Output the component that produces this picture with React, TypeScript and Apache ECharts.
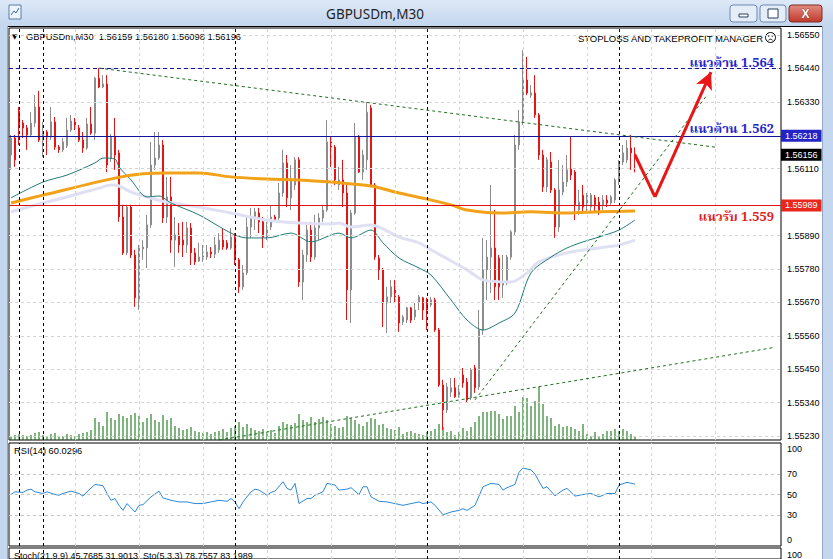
import React, { useEffect, useRef } from "react";
import * as echarts from "echarts";

// ---------- data ----------
const SLOTS = 193; // 157 bars + chart shift space
const categories = Array.from({ length: SLOTS }, (_, i) => String(i));

const opens = [
  1.56155, 1.56211, 1.563, 1.5626, 1.56244, 1.56221, 1.5626, 1.56313, 1.56204, 1.56231,
  1.56214, 1.56264, 1.56181, 1.56172, 1.56185, 1.56237, 1.56267, 1.56244, 1.56204, 1.56178,
  1.56257, 1.56227, 1.56408, 1.56379, 1.56389, 1.56145, 1.56214, 1.56162, 1.55951, 1.55833,
  1.55984, 1.55826, 1.55671, 1.55846, 1.55849, 1.55925, 1.56122, 1.56145, 1.56188, 1.55951,
  1.56017, 1.55875, 1.55892, 1.55875, 1.55859, 1.55915, 1.55833, 1.55806, 1.55816, 1.55819,
  1.55836, 1.55829, 1.55843, 1.55875, 1.55866, 1.55849, 1.55885, 1.5581, 1.55721, 1.55767,
  1.55918, 1.55948, 1.55964, 1.55935, 1.55885, 1.55918, 1.55951, 1.55948, 1.5603, 1.56129,
  1.56014, 1.56056, 1.56139, 1.55737, 1.55826, 1.55908, 1.55819, 1.55915, 1.55948, 1.55974,
  1.56198, 1.56181, 1.56056, 1.56073, 1.5603, 1.55711, 1.55964, 1.56214, 1.56099, 1.56139,
  1.5631, 1.56056, 1.55816, 1.55777, 1.55668, 1.55688, 1.55721, 1.55688, 1.55606, 1.55612,
  1.55652, 1.55622, 1.55671, 1.55685, 1.55668, 1.55662, 1.55678, 1.55579, 1.55398, 1.55316,
  1.55375, 1.55389, 1.55359, 1.55431, 1.55408, 1.55356, 1.55454, 1.55392, 1.55579, 1.55777,
  1.55819, 1.55849, 1.55816, 1.55727, 1.55734, 1.55819, 1.55902, 1.56188, 1.56264, 1.56402,
  1.56352, 1.56359, 1.56287, 1.56155, 1.5605, 1.56132, 1.5604, 1.55918, 1.56033, 1.56066,
  1.56109, 1.56099, 1.55974, 1.56023, 1.55997, 1.55984, 1.56014, 1.56, 1.55991, 1.56007,
  1.55997, 1.56007, 1.56073, 1.56132, 1.56139, 1.56178, 1.56159,
];
const closes = [
  1.56211, 1.56139, 1.56254, 1.56244, 1.56221, 1.5626, 1.56313, 1.56204, 1.56231, 1.56214,
  1.56264, 1.56181, 1.56172, 1.56198, 1.56237, 1.56267, 1.56244, 1.56204, 1.56178, 1.56257,
  1.56227, 1.56408, 1.56379, 1.56389, 1.56122, 1.56214, 1.56155, 1.55951, 1.55833, 1.55984,
  1.55826, 1.55685, 1.55849, 1.55852, 1.55925, 1.56122, 1.56145, 1.56188, 1.55948, 1.56017,
  1.55875, 1.55892, 1.55859, 1.55859, 1.55915, 1.55833, 1.55803, 1.55819, 1.55823, 1.55836,
  1.55829, 1.55859, 1.55875, 1.55852, 1.55849, 1.55885, 1.5581, 1.55721, 1.55767, 1.55918,
  1.55951, 1.55968, 1.55935, 1.55885, 1.55918, 1.55951, 1.55941, 1.5603, 1.56129, 1.56014,
  1.56073, 1.56139, 1.55737, 1.55826, 1.55908, 1.55819, 1.55915, 1.55948, 1.55974, 1.56198,
  1.56181, 1.56073, 1.56073, 1.5603, 1.55711, 1.55964, 1.56214, 1.56099, 1.56155, 1.56296,
  1.56056, 1.55819, 1.55777, 1.55668, 1.55688, 1.55721, 1.55688, 1.55602, 1.55622, 1.55652,
  1.55612, 1.55645, 1.55688, 1.55645, 1.55645, 1.55678, 1.55579, 1.55398, 1.55316, 1.55392,
  1.55389, 1.55359, 1.55375, 1.55405, 1.55349, 1.55448, 1.55389, 1.55579, 1.55777, 1.55819,
  1.55849, 1.55721, 1.55721, 1.55734, 1.55819, 1.55902, 1.56188, 1.56264, 1.56402, 1.56359,
  1.56359, 1.56287, 1.56155, 1.5605, 1.56139, 1.5604, 1.55918, 1.5604, 1.56066, 1.56106,
  1.56089, 1.55991, 1.56, 1.55984, 1.56023, 1.56023, 1.55991, 1.55968, 1.56007, 1.55997,
  1.56017, 1.56073, 1.56132, 1.56162, 1.56178, 1.56162, 1.56156,
];
const lows = [
  1.56106, 1.56116, 1.56188, 1.56211, 1.56172, 1.56214, 1.56247, 1.56198, 1.56148, 1.56155,
  1.56204, 1.56172, 1.56162, 1.56165, 1.56178, 1.56231, 1.56237, 1.56198, 1.56162, 1.56172,
  1.56221, 1.56204, 1.56375, 1.56375, 1.56099, 1.56132, 1.56106, 1.55935, 1.55826, 1.55826,
  1.55816, 1.55655, 1.55645, 1.5581, 1.55783, 1.55915, 1.56106, 1.56139, 1.55931, 1.55931,
  1.55833, 1.55787, 1.55833, 1.55819, 1.55833, 1.55793, 1.55793, 1.55803, 1.55803, 1.5581,
  1.55816, 1.55816, 1.55833, 1.55843, 1.55843, 1.55843, 1.55793, 1.55701, 1.55711, 1.5576,
  1.55882, 1.55908, 1.55898, 1.55849, 1.55875, 1.55908, 1.55935, 1.55935, 1.56017, 1.55984,
  1.55974, 1.5604, 1.55721, 1.55678, 1.55803, 1.55803, 1.5581, 1.55875, 1.55935, 1.55968,
  1.56116, 1.56056, 1.5604, 1.55984, 1.55612, 1.55602, 1.55958, 1.56096, 1.56073, 1.56106,
  1.5605, 1.5581, 1.55744, 1.55589, 1.55569, 1.55668, 1.55668, 1.55573, 1.55596, 1.55602,
  1.55602, 1.55612, 1.55645, 1.55612, 1.55579, 1.55655, 1.55573, 1.55392, 1.5525, 1.55306,
  1.55359, 1.55356, 1.55356, 1.55389, 1.55339, 1.55349, 1.55372, 1.55382, 1.55563, 1.55678,
  1.55701, 1.55678, 1.55678, 1.55685, 1.55727, 1.5581, 1.55892, 1.56172, 1.56254, 1.56352,
  1.56343, 1.56277, 1.56139, 1.56033, 1.56033, 1.5603, 1.55882, 1.55902, 1.56023, 1.5605,
  1.56073, 1.55941, 1.55958, 1.55964, 1.55964, 1.55964, 1.55964, 1.55958, 1.55974, 1.55984,
  1.55991, 1.55997, 1.56056, 1.56122, 1.56129, 1.56106, 1.56098,
];
const highs = [
  1.56221, 1.56221, 1.56313, 1.5627, 1.56254, 1.56296, 1.56352, 1.56366, 1.56264, 1.56237,
  1.56313, 1.5628, 1.56188, 1.56211, 1.56277, 1.56287, 1.56277, 1.56254, 1.56231, 1.56277,
  1.56313, 1.56412, 1.56441, 1.56418, 1.56418, 1.56224, 1.56277, 1.56172, 1.55991, 1.55991,
  1.55991, 1.55843, 1.55859, 1.55875, 1.55958, 1.56198, 1.56231, 1.56231, 1.56204, 1.56083,
  1.56083, 1.55951, 1.55931, 1.55935, 1.55935, 1.55931, 1.55849, 1.55866, 1.55859, 1.55859,
  1.55852, 1.55885, 1.55898, 1.55915, 1.55875, 1.55915, 1.55898, 1.55816, 1.55793, 1.55951,
  1.55981, 1.55981, 1.55981, 1.55951, 1.55935, 1.55991, 1.55958, 1.56063, 1.56172, 1.56155,
  1.56122, 1.56148, 1.56148, 1.55843, 1.55925, 1.55935, 1.55958, 1.55964, 1.55991, 1.5627,
  1.56214, 1.56188, 1.56116, 1.56139, 1.56056, 1.55974, 1.5626, 1.56221, 1.56172, 1.56329,
  1.5632, 1.56063, 1.55826, 1.55783, 1.55721, 1.55744, 1.55744, 1.55694, 1.55629, 1.55655,
  1.55655, 1.55668, 1.55694, 1.55688, 1.55685, 1.55688, 1.55685, 1.55586, 1.55415, 1.55405,
  1.55421, 1.55421, 1.55398, 1.55454, 1.55421, 1.55454, 1.55464, 1.55645, 1.55882, 1.55875,
  1.56056, 1.55974, 1.55826, 1.55826, 1.55826, 1.55908, 1.56221, 1.56303, 1.565, 1.56478,
  1.56385, 1.56418, 1.56293, 1.56172, 1.56148, 1.56165, 1.56046, 1.56139, 1.56122, 1.56155,
  1.56214, 1.56106, 1.5604, 1.56056, 1.5603, 1.5603, 1.56023, 1.56017, 1.56023, 1.56023,
  1.56023, 1.56079, 1.56139, 1.56188, 1.56204, 1.56221, 1.5618,
];
const volumes = [
  4, 5, 6, 5, 4, 5, 7, 8, 5, 4,
  6, 7, 4, 4, 6, 5, 4, 6, 7, 8,
  10, 22, 18, 14, 28, 22, 20, 26, 24, 22,
  25, 27, 24, 18, 22, 26, 20, 18, 25, 20,
  22, 14, 12, 10, 11, 13, 9, 8, 7, 8,
  6, 8, 9, 11, 8, 12, 14, 18, 13, 16,
  12, 10, 9, 11, 8, 10, 7, 14, 18, 16,
  15, 17, 26, 20, 18, 23, 18, 21, 23, 20,
  16, 14, 12, 13, 24, 22, 20, 16, 14, 18,
  22, 21, 15, 16, 12, 11, 10, 13, 6, 8,
  9, 7, 6, 5, 8, 9, 11, 16, 13, 8,
  9, 5, 8, 12, 9, 13, 18, 24, 28, 28,
  29, 29, 26, 21, 24, 24, 34, 28, 43, 42,
  34, 39, 53, 36, 24, 22, 14, 16, 13, 14,
  13, 11, 9, 16, 6, 4, 8, 4, 6, 9,
  9, 11, 9, 11, 9, 6, 4,
];

// moving averages, read at sample bars
const maOrangeIdx = [0, 8, 26, 33, 39, 47, 55, 64, 72, 80, 90, 97, 104, 110, 114, 122, 130, 139, 147, 156];
const maOrangeVal = [1.55997, 1.56023, 1.56079, 1.56093, 1.56096, 1.56096, 1.56083, 1.56076, 1.56073, 1.56066, 1.56053, 1.5603, 1.5601, 1.55991, 1.55974, 1.55964, 1.55968, 1.55964, 1.55968, 1.55971];
const maTealIdx = [0, 8, 14, 21, 23, 26, 27, 30, 34, 37, 40, 47, 55, 59, 64, 70, 75, 82, 85, 90, 93, 97, 102, 105, 110, 114, 118, 122, 126, 130, 135, 139, 143, 147, 152, 156];
const maTealVal = [1.56014, 1.56066, 1.56089, 1.56129, 1.56145, 1.56142, 1.56116, 1.56073, 1.56017, 1.5602, 1.55997, 1.55958, 1.55898, 1.55882, 1.55882, 1.55898, 1.55869, 1.55898, 1.55882, 1.55908, 1.55866, 1.55816, 1.55783, 1.5576, 1.55678, 1.55612, 1.55579, 1.55602, 1.55635, 1.55767, 1.55819, 1.55849, 1.55869, 1.55885, 1.55908, 1.55941];
const maLavIdx = [0, 8, 14, 22, 25, 27, 30, 34, 39, 47, 55, 64, 72, 80, 82, 85, 90, 97, 102, 105, 114, 118, 125, 129, 132, 139, 147, 152, 156];
const maLavVal = [1.55968, 1.55997, 1.56017, 1.56046, 1.56056, 1.56053, 1.56033, 1.56017, 1.56, 1.55984, 1.55964, 1.55941, 1.55931, 1.55928, 1.55931, 1.55918, 1.55925, 1.55885, 1.55866, 1.55843, 1.55777, 1.55744, 1.55737, 1.55767, 1.55803, 1.55833, 1.55849, 1.55859, 1.55875];

// RSI(14)
const rsiIdx = [0, 1, 3, 4, 5, 6, 8, 9, 11, 12, 13, 15, 17, 18, 19, 21, 23, 24, 25, 26, 27, 28, 29, 31, 32, 33, 35, 37, 38, 40, 42, 44, 46, 48, 50, 52, 54, 55, 56, 57, 58, 60, 61, 62, 64, 65, 66, 68, 69, 70, 71, 72, 74, 75, 76, 78, 79, 81, 82, 84, 85, 87, 88, 89, 90, 92, 94, 96, 98, 100, 102, 103, 105, 106, 108, 110, 112, 113, 114, 116, 118, 120, 122, 123, 124, 126, 127, 128, 130, 131, 133, 134, 136, 138, 139, 141, 143, 145, 147, 149, 151, 152, 154, 156];
const rsiVal = [50.0, 52.6, 52.0, 54.3, 55.2, 52.6, 51.0, 52.6, 50.0, 49.3, 51.0, 53.3, 51.0, 48.4, 52.6, 59.8, 58.5, 51.0, 44.4, 46.1, 39.5, 34.6, 41.2, 33.0, 39.5, 40.2, 47.7, 53.3, 46.7, 44.4, 42.8, 42.8, 41.2, 41.2, 42.8, 44.4, 43.4, 46.1, 42.8, 36.2, 42.8, 52.6, 55.2, 54.3, 49.3, 52.0, 53.3, 62.4, 55.9, 54.3, 60.8, 41.2, 46.1, 46.1, 49.3, 52.6, 60.8, 59.2, 54.3, 55.2, 56.6, 50.0, 57.5, 57.5, 47.7, 43.4, 42.8, 41.2, 39.5, 41.2, 42.8, 41.2, 42.8, 39.5, 30.3, 33.0, 34.6, 36.2, 34.6, 39.5, 57.5, 60.8, 59.8, 54.3, 56.6, 59.8, 71.6, 75.6, 73.9, 69.7, 55.9, 57.5, 48.7, 54.3, 55.9, 48.4, 50.0, 51.0, 47.7, 51.0, 51.0, 59.2, 61.8, 60.0296];

// axes / levels
const PRICE_MIN = 1.55217;
const PRICE_MAX = 1.56573;
const priceTickLabels = [1.5655, 1.5644, 1.5633, 1.5611, 1.5589, 1.5578, 1.5567, 1.5556, 1.5545, 1.5534, 1.5523];
const priceGridLines = [1.5655, 1.5644, 1.5633, 1.5611, 1.5589, 1.5578, 1.5567, 1.5556, 1.5545, 1.5534, 1.5523];
const separatorBars = [2, 8, 56, 104, 152];
const gridBars = [16, 32, 48, 64, 80, 96, 112, 128, 144, 160, 176];
const rsiLevels = [70, 50, 30];
const resistHigh = 1.5644;
const resistLevel = 1.56218;
const supportLevel = 1.55989;
const bidPrice = 1.56156;
const trendDown = [[22, 1.56441], [176, 1.56181]];
const trendUpSteep = [[116, 1.55349], [174, 1.56352]];
const trendUpFlat = [[52, 1.55217], [191, 1.55522]];
const arrowPath = [[156, 1.56155], [161, 1.56017], [175, 1.56428]];

const FONT = "'Liberation Sans', Arial, sans-serif";
const THAI = "'Noto Serif Thai', 'Noto Sans Thai', 'Tlwg Typo', 'Garuda', 'DejaVu Serif', serif";

function buildOption() {
  const candleData = opens.map((o, i) => [o, closes[i], lows[i], highs[i]]);
  const pairs = (idx: number[], val: number[]) => idx.map((x, k) => [x, val[k]]);
  const gridStyle = { color: "#d4d4d4", type: [3, 3], width: 1 };
  const sepStyle = { color: "#000000", type: [3, 3], width: 1 };
  const vLines = [
    ...gridBars.map((b) => ({ xAxis: b, lineStyle: gridStyle })),
    ...separatorBars.map((b) => ({ xAxis: b, lineStyle: sepStyle })),
  ];
  const boxLabel = (text: string, bg: string) => ({
    show: true,
    position: "end",
    formatter: text,
    color: "#ffffff",
    backgroundColor: bg,
    padding: [2, 4, 1, 4],
    fontSize: 9,
    fontFamily: FONT,
    distance: 0,
  });
  const trendStyle = { color: "#1f6e1f", type: [3, 3], width: 1 };

  const graphic: any[] = [
    // window chrome
    {
      type: "rect", shape: { x: 0, y: 0, width: 833, height: 26 },
      style: { fill: new echarts.graphic.LinearGradient(0, 0, 0, 1, [
        { offset: 0, color: "#dde9f7" }, { offset: 1, color: "#c3d6ee" }]) },
      silent: true,
    },
    { type: "rect", shape: { x: 0, y: 26, width: 8, height: 533 }, style: { fill: "#c4d7ee" }, silent: true },
    { type: "rect", shape: { x: 822, y: 26, width: 11, height: 533 }, style: { fill: "#c4d7ee" }, silent: true },
    { type: "line", shape: { x1: 7.5, y1: 26, x2: 7.5, y2: 559 }, style: { stroke: "#8fa7c4", lineWidth: 1 }, silent: true },
    { type: "line", shape: { x1: 822.5, y1: 26, x2: 822.5, y2: 559 }, style: { stroke: "#8fa7c4", lineWidth: 1 }, silent: true },
    { type: "line", shape: { x1: 8, y1: 26.5, x2: 822, y2: 26.5 }, style: { stroke: "#000", lineWidth: 1 }, silent: true },
    // title icon
    { type: "rect", shape: { x: 9, y: 5, width: 12, height: 14 }, style: { fill: "#eef4fb", stroke: "#5a7ca8", lineWidth: 1 }, silent: true },
    { type: "polyline", shape: { points: [[11, 15], [14, 11], [16, 13], [19, 8]] }, style: { stroke: "#3a64a0", lineWidth: 1, fill: "none" }, silent: true },
    {
      type: "text", x: 375, y: 14, silent: true,
      style: { text: "GBPUSDm,M30", fill: "#1e1e1e", fontSize: 13.5, fontFamily: "'Noto Sans', 'DejaVu Sans', sans-serif", textAlign: "center", textVerticalAlign: "middle" },
    },
    // buttons
    { type: "rect", shape: { x: 730, y: 5, width: 27, height: 17, r: 3 }, style: { fill: "#e4edf8", stroke: "#6f8aae", lineWidth: 1 }, silent: true },
    { type: "rect", shape: { x: 739, y: 14, width: 9, height: 3 }, style: { fill: "#fff", stroke: "#2b3e5a", lineWidth: 1 }, silent: true },
    { type: "rect", shape: { x: 760, y: 5, width: 26, height: 17, r: 3 }, style: { fill: "#e4edf8", stroke: "#6f8aae", lineWidth: 1 }, silent: true },
    { type: "rect", shape: { x: 768, y: 9, width: 10, height: 9 }, style: { fill: "#fff", stroke: "#2b3e5a", lineWidth: 1 }, silent: true },
    { type: "rect", shape: { x: 789, y: 5, width: 33, height: 17, r: 3 }, style: { fill: new echarts.graphic.LinearGradient(0, 0, 0, 1, [
      { offset: 0, color: "#e28c80" }, { offset: 1, color: "#c0392b" }]), stroke: "#7e2a20", lineWidth: 1 }, silent: true },
    {
      type: "text", x: 805.5, y: 13.5, silent: true,
      style: { text: "X", fill: "#ffffff", fontSize: 12, fontWeight: "bold", fontFamily: FONT, textAlign: "center", textVerticalAlign: "middle", stroke: "#6a1a10", lineWidth: 0.6 },
    },
    // chart header texts
    { type: "text", x: 12, y: 36.5, silent: true, style: { text: "▼", fill: "#000", fontSize: 7, fontFamily: "'DejaVu Sans', sans-serif", textVerticalAlign: "middle" } },
    {
      type: "text", x: 26, y: 36.5, silent: true,
      style: { text: "GBPUSDm,M30  1.56159 1.56180 1.56098 1.56196", fill: "#000", fontSize: 9.3, fontFamily: FONT, textVerticalAlign: "middle" },
    },
    {
      type: "text", x: 763, y: 38, silent: true,
      style: { text: "STOPLOSS AND TAKEPROFIT MANAGER", fill: "#000", fontSize: 9.5, fontFamily: FONT, textAlign: "right", textVerticalAlign: "middle" },
    },
    { type: "circle", shape: { cx: 770.5, cy: 37.5, r: 5 }, style: { fill: "none", stroke: "#000", lineWidth: 1 }, silent: true },
    { type: "circle", shape: { cx: 768.7, cy: 36, r: 0.7 }, style: { fill: "#000" }, silent: true },
    { type: "circle", shape: { cx: 772.3, cy: 36, r: 0.7 }, style: { fill: "#000" }, silent: true },
    { type: "arc", shape: { cx: 770.5, cy: 41.5, r: 2.3, startAngle: Math.PI * 1.15, endAngle: Math.PI * 1.85 }, style: { stroke: "#000", lineWidth: 0.9, fill: "none" }, silent: true },
    // Thai annotations
    {
      type: "text", x: 774, y: 63, silent: true,
      style: { text: "แนวต้าน 1.564", fill: "#2424cc", fontSize: 13, fontWeight: "bold", fontFamily: THAI, textAlign: "right", textVerticalAlign: "middle" },
    },
    {
      type: "text", x: 774, y: 129, silent: true,
      style: { text: "แนวต้าน 1.562", fill: "#2424cc", fontSize: 13, fontWeight: "bold", fontFamily: THAI, textAlign: "right", textVerticalAlign: "middle" },
    },
    {
      type: "text", x: 774, y: 217, silent: true,
      style: { text: "แนวรับ 1.559", fill: "#e01e1e", fontSize: 13, fontWeight: "bold", fontFamily: THAI, textAlign: "right", textVerticalAlign: "middle" },
    },
    // indicator panel texts
    { type: "text", x: 14, y: 451, silent: true, style: { text: "RSI(14) 60.0296", fill: "#000", fontSize: 9.3, fontFamily: FONT, textVerticalAlign: "middle" } },
    { type: "text", x: 787, y: 449, silent: true, style: { text: "100", fill: "#000", fontSize: 9, fontFamily: FONT, textVerticalAlign: "middle" } },
    { type: "text", x: 787, y: 540, silent: true, style: { text: "0", fill: "#000", fontSize: 9, fontFamily: FONT, textVerticalAlign: "middle" } },
    { type: "text", x: 14, y: 555.5, silent: true, style: { text: "Stoch(21,9,9) 45.7685 31.9013  Sto(5,3,3) 78.7557 83.1989", fill: "#000", fontSize: 9, fontFamily: FONT, textVerticalAlign: "middle" } },
    { type: "text", x: 787, y: 554.5, silent: true, style: { text: "100", fill: "#000", fontSize: 9, fontFamily: FONT, textVerticalAlign: "middle" } },
  ];

  return {
    animation: false,
    backgroundColor: "#ffffff",
    grid: [
      { left: 9, top: 28, width: 772, height: 412, show: true, borderColor: "#000", borderWidth: 1, backgroundColor: "transparent" },
      { left: 9, top: 340, width: 772, height: 100, show: false },
      { left: 9, top: 443, width: 772, height: 103, show: true, borderColor: "#000", borderWidth: 1, backgroundColor: "transparent" },
      { left: 9, top: 548, width: 772, height: 40, show: true, borderColor: "#000", borderWidth: 1, backgroundColor: "transparent" },
    ],
    xAxis: [0, 1, 2, 3].map((g) => ({
      type: "category", gridIndex: g, data: categories, boundaryGap: true, show: false,
    })),
    yAxis: [
      {
        type: "value", gridIndex: 0, position: "right", min: PRICE_MIN, max: PRICE_MAX,
        splitLine: { show: false }, axisLine: { show: false }, axisTick: { show: false },
        axisLabel: {
          show: true, customValues: priceTickLabels, formatter: (v: number) => v.toFixed(5),
          fontSize: 9, color: "#000", fontFamily: FONT, margin: 6,
        },
      },
      { type: "value", gridIndex: 1, min: 0, max: 100, show: false },
      {
        type: "value", gridIndex: 2, position: "right", min: 0, max: 100,
        splitLine: { show: false }, axisLine: { show: false }, axisTick: { show: false },
        axisLabel: { show: true, customValues: rsiLevels, fontSize: 9, color: "#000", fontFamily: FONT, margin: 6 },
      },
      { type: "value", gridIndex: 3, min: 0, max: 100, show: false },
    ],
    graphic,
    series: [
      {
        name: "grid", type: "line", xAxisIndex: 0, yAxisIndex: 0, data: [], z: 1, silent: true,
        markLine: {
          silent: true, symbol: ["none", "none"], label: { show: false }, precision: 6,
          lineStyle: gridStyle,
          data: [...priceGridLines.map((v) => ({ yAxis: v })), ...vLines],
        },
      },
      {
        name: "volume", type: "bar", xAxisIndex: 1, yAxisIndex: 1, data: volumes, barWidth: 1, z: 2, silent: true,
        itemStyle: { color: "#006b00" },
      },
      {
        name: "GBPUSDm", type: "candlestick", xAxisIndex: 0, yAxisIndex: 0, data: candleData, barWidth: 2, z: 3,
        itemStyle: { color: "#8c8c8c", color0: "#e21616", borderColor: "#8c8c8c", borderColor0: "#e21616", borderWidth: 1 },
      },
      {
        name: "MA lavender", type: "line", xAxisIndex: 0, yAxisIndex: 0, data: pairs(maLavIdx, maLavVal), z: 4,
        showSymbol: false, smooth: 0.3, lineStyle: { color: "#e0e0f4", width: 3 },
      },
      {
        name: "MA teal", type: "line", xAxisIndex: 0, yAxisIndex: 0, data: pairs(maTealIdx, maTealVal), z: 4,
        showSymbol: false, smooth: 0.3, lineStyle: { color: "#1f7a76", width: 1 },
      },
      {
        name: "MA orange", type: "line", xAxisIndex: 0, yAxisIndex: 0, data: pairs(maOrangeIdx, maOrangeVal), z: 4,
        showSymbol: false, smooth: 0.3, lineStyle: { color: "#f2a218", width: 3 },
      },
      {
        name: "drawings", type: "line", xAxisIndex: 0, yAxisIndex: 0, data: [], z: 6, silent: true,
        markLine: {
          silent: true, symbol: ["none", "none"], label: { show: false }, precision: 6,
          data: [
            { yAxis: resistHigh, lineStyle: { color: "#12129a", type: [4, 3], width: 1 } },
            { yAxis: resistLevel, lineStyle: { color: "#12129a", type: "solid", width: 1 }, label: boxLabel("1.56218", "#2323c6") },
            { yAxis: bidPrice, lineStyle: { color: "rgba(0,0,0,0)", width: 0 }, label: boxLabel("1.56156", "#000000") },
            [{ coord: trendDown[0], lineStyle: trendStyle }, { coord: trendDown[1] }],
            [{ coord: trendUpSteep[0], lineStyle: trendStyle }, { coord: trendUpSteep[1] }],
            [{ coord: trendUpFlat[0], lineStyle: trendStyle }, { coord: trendUpFlat[1] }],
            [{ coord: arrowPath[0], lineStyle: { color: "#e81616", width: 3, type: "solid" } }, { coord: arrowPath[1] }],
            [
              { coord: arrowPath[1], lineStyle: { color: "#e81616", width: 3, type: "solid" } },
              { coord: arrowPath[2], symbol: "arrow", symbolSize: [13, 17] },
            ],
          ],
        },
      },
      {
        name: "support", type: "line", xAxisIndex: 0, yAxisIndex: 0, data: [], z: 7, silent: true,
        color: "#e01010",
        markLine: {
          silent: true, symbol: ["none", "none"], precision: 6,
          lineStyle: { color: "#e01010", type: "solid", width: 1 },
          label: boxLabel("1.55989", "#e8261c"),
          data: [{ yAxis: supportLevel }],
        },
      },
      {
        name: "RSI(14)", type: "line", xAxisIndex: 2, yAxisIndex: 2, data: pairs(rsiIdx, rsiVal), z: 3,
        showSymbol: false, lineStyle: { color: "#2e88d6", width: 1 },
        markLine: {
          silent: true, symbol: ["none", "none"], label: { show: false }, precision: 6,
          lineStyle: { color: "#c4c4c4", type: [3, 3], width: 1 },
          data: [...rsiLevels.map((v) => ({ yAxis: v })), ...vLines],
        },
      },
      {
        name: "stoch", type: "line", xAxisIndex: 3, yAxisIndex: 3, data: [], z: 1, silent: true,
        markLine: { silent: true, symbol: ["none", "none"], label: { show: false }, data: vLines },
      },
    ],
  };
}

export default function App() {
  const ref = useRef<HTMLDivElement>(null);
  useEffect(() => {
    if (!ref.current) return;
    const chart = echarts.init(ref.current, undefined, { renderer: "svg" });
    chart.setOption(buildOption() as any);
    return () => chart.dispose();
  }, []);
  return (
    <div
      ref={ref}
      style={{ position: "fixed", left: 0, top: 0, width: 833, height: 559 }}
    />
  );
}
